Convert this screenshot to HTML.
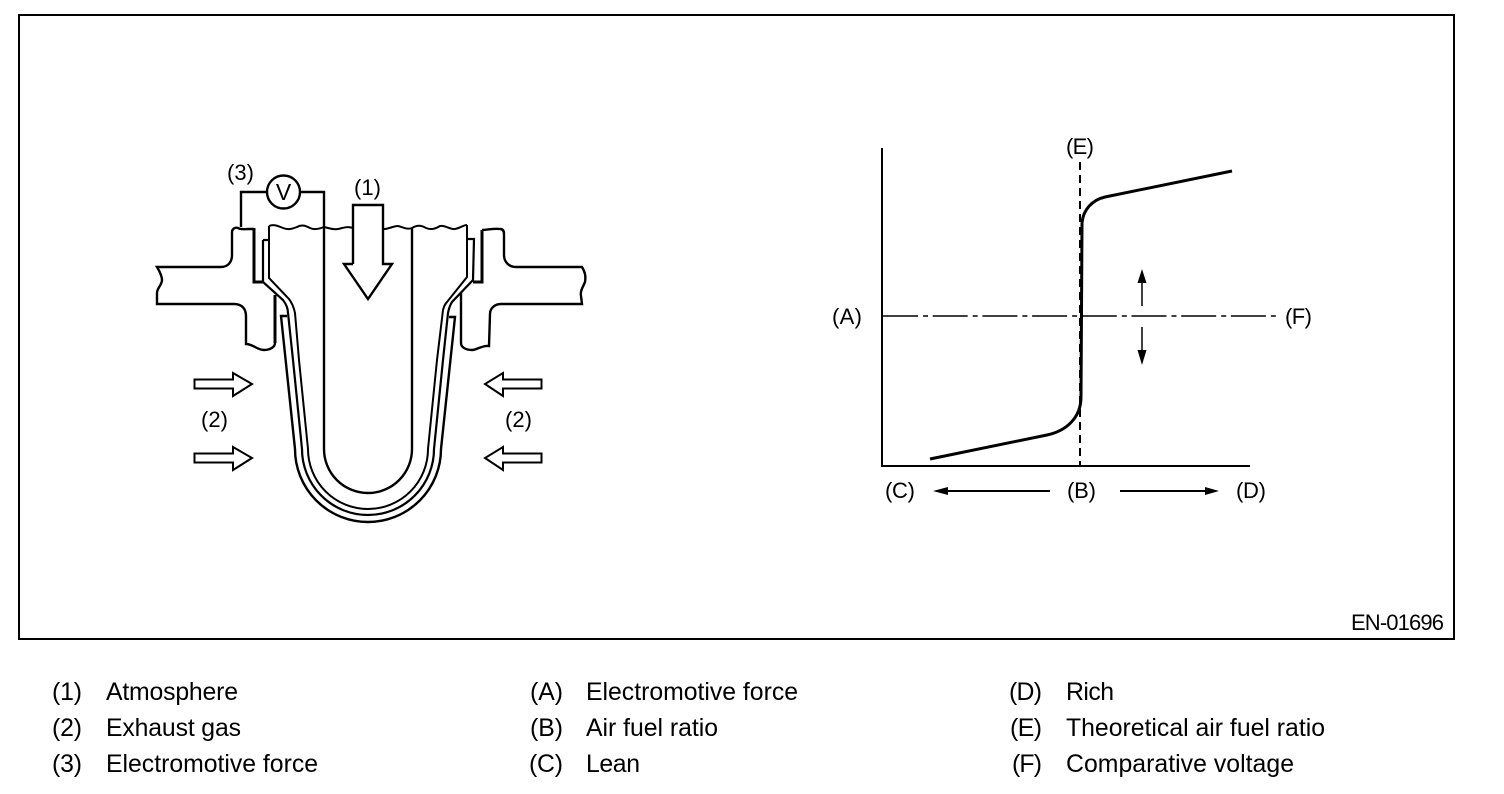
<!DOCTYPE html>
<html><head><meta charset="utf-8"><style>
html,body{margin:0;padding:0;background:#fff;width:1504px;height:794px;overflow:hidden}
svg{display:block}
text{font-family:"Liberation Sans",Arial,sans-serif;fill:#000}
.d{font-size:22px}
.l{font-size:24.8px}
</style></head><body>
<svg width="1504" height="794" viewBox="0 0 1504 794" xmlns="http://www.w3.org/2000/svg">
<rect x="19" y="15" width="1435" height="624" fill="none" stroke="#000" stroke-width="2"/>
<g fill="none" stroke="#000" stroke-width="2" stroke-linejoin="miter">
<!-- left flange -->
<path d="M254 229 L248 229 C244 229 241 230 238 228 C235 227 232 229 232 232 L232 255 C232 262 228 267 221 267 L157 267 C160 272 162 276 162 280 C162 285 157 288 157 293 L157 304 L234 304 C242 304 246 309 246 316 L246 344 C253 344 257 350 264 350 C270 350 275 347 275 343" stroke-width="2.4"/>
<path d="M275 343 L275 295" stroke-width="3"/>
<path d="M254 228 L254 282 L263 282" stroke-width="3"/>
<!-- right flange -->
<path d="M482 230 L482 282 L473 282" stroke-width="3"/>
<path d="M482 230 C488 230 494 228 500 229 C503 229 504 231 504 234 L504 255 C504 262 509 267 516 267 L582 267 C585 272 586 276 585 282 C583 287 580 291 581 296 L582 304 L501 304 C495 304 490 308 490 314 L489 346 C482 345 477 350 472 350 C467 350 461 348 461 343 L461 293" stroke-width="2.4"/>
<!-- wires -->
<path d="M241 227 L241 192 L267 192 M300 192 L324 192 L324 449 A44 44 0 0 0 412 449 L412 228" stroke-width="2.4"/>
<circle cx="283.5" cy="192" r="16.5" stroke-width="2.4"/>
<!-- wavy top -->
<path d="M269 226 C274 224 278 226 283 228 C288 230 292 229 297 227 C302 224 306 226 310 228 C314 230 319 229 324 227 C329 228 333 230 338 229 C343 228 347 226 353 228 C358 230 365 226 370 226 C375 226 379 230 384 229 C389 229 393 226 398 226 C403 227 407 230 412 228 C417 225 421 225 426 228 C431 230 435 229 440 226 C445 225 449 229 454 229 C459 229 463 225 467 225" stroke-width="2"/>
<!-- sensor walls -->
<path d="M269 226 L269 278 L289 299 C292 303 294 308 295 313 L299 360 L308 449 A60 60 0 0 0 428 449 L437 360 L443 310 C444 306 445 304 447 302 L467 277 L467 225" stroke-width="2"/>
<path d="M263 240 L269 240 M263 240 L263 282 L283 300 C286 304 288 309 288 313 L293 360 L302 449 A66 66 0 0 0 434 449 L443 360 L448 313 C449 308 450 305 452 302 L473 280 L474 239 L467 239" stroke-width="2.2"/>
<path d="M287 316 L281 316 L295 449 A73 73 0 0 0 441 449 L455 317 L449 317" stroke-width="2.4"/>
<!-- big arrow -->
<path d="M353 228 L353 205 L383 205 L383 264 L392 264 L368 299 L344 264 L353 264 Z" fill="#fff" stroke="none"/>
<path d="M353 264 L353 205 L383 205 L383 264 L392 264 L368 299 L344 264 L353 264" stroke-width="2.4"/>
<!-- exhaust arrows -->
<path d="M194.500 379.500 H233 V373 L252 384 L233 396 V388.500 H194.500 Z" stroke-width="2"/>
<path d="M194.500 453.500 H233 V447 L252 458 L233 470 V462.500 H194.500 Z" stroke-width="2"/>
<path d="M541.500 379.500 H503 V373 L485 384 L503 396 V388.500 H541.500 Z" stroke-width="2"/>
<path d="M541.500 453.500 H503 V447 L485 458 L503 470 V462.500 H541.500 Z" stroke-width="2"/>
<!-- graph -->
<path d="M882 148 V466 H1250" stroke-width="2"/>
<path d="M1080 162 V466" stroke-width="2" stroke-dasharray="8 5"/>
<path d="M883 316 H1277" stroke-width="1.500" stroke-dasharray="35 5 5 4.700"/>
<path d="M930 459 L1047 435 C1066 431 1081 418 1081 397 L1082 223 C1083 210 1092 200 1105 197 L1232 171" stroke-width="3"/>
<path d="M1142 283 V306 M1142 327 V350" stroke-width="1.500"/>
<path d="M1050 491 H945 M1120 491 H1208" stroke-width="2"/>
</g>
<path d="M1142 269 L1146.500 283 L1137.500 283 Z M1142 365 L1146.500 350 L1137.500 350 Z M933 491 L948 487 L948 495 Z M1219 491 L1205 487 L1205 495 Z"/>
<text class="d" x="227" y="180" textLength="27">(3)</text>
<text class="d" x="354" y="195" textLength="27">(1)</text>
<text class="d" x="201" y="427" textLength="27">(2)</text>
<text class="d" x="505" y="427" textLength="27">(2)</text>
<text x="283.500" y="200" font-size="23" text-anchor="middle">V</text>
<text class="d" x="1066" y="154" textLength="28">(E)</text>
<text class="d" x="832" y="324" textLength="30">(A)</text>
<text class="d" x="1285" y="324" textLength="27">(F)</text>
<text class="d" x="885" y="498" textLength="30">(C)</text>
<text class="d" x="1067" y="498" textLength="29">(B)</text>
<text class="d" x="1236" y="498" textLength="30">(D)</text>
<text class="d" x="1351" y="630" textLength="93">EN-01696</text>
<text class="l" x="52" y="700" textLength="30">(1)</text><text class="l" x="106" y="700" textLength="132">Atmosphere</text>
<text class="l" x="52" y="736" textLength="30">(2)</text><text class="l" x="106" y="736" textLength="135">Exhaust gas</text>
<text class="l" x="52" y="772" textLength="30">(3)</text><text class="l" x="106" y="772" textLength="212">Electromotive force</text>
<text class="l" x="530" y="700" textLength="33">(A)</text><text class="l" x="586" y="700" textLength="212">Electromotive force</text>
<text class="l" x="530" y="736" textLength="33">(B)</text><text class="l" x="586" y="736" textLength="132">Air fuel ratio</text>
<text class="l" x="529" y="772" textLength="34">(C)</text><text class="l" x="586" y="772" textLength="54">Lean</text>
<text class="l" x="1009" y="700" textLength="33">(D)</text><text class="l" x="1066" y="700" textLength="48">Rich</text>
<text class="l" x="1010" y="736" textLength="32">(E)</text><text class="l" x="1066" y="736" textLength="259">Theoretical air fuel ratio</text>
<text class="l" x="1012" y="772" textLength="30">(F)</text><text class="l" x="1066" y="772" textLength="228">Comparative voltage</text>
</svg>
</body></html>
